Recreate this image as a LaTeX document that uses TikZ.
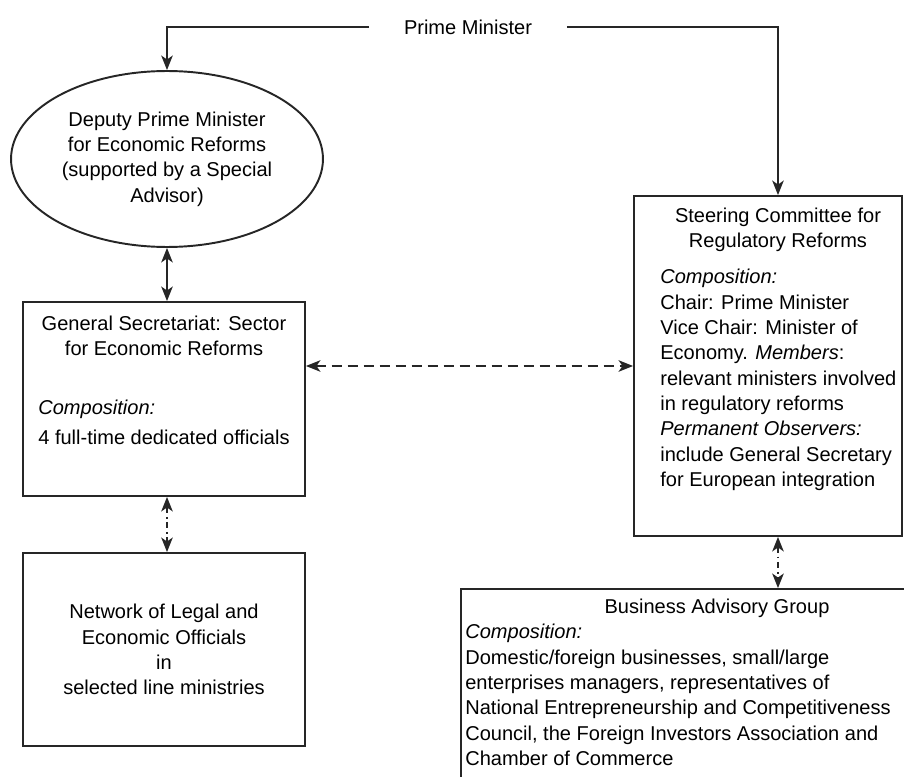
\documentclass[tikz,border=0pt]{standalone}
\usepackage{fontspec}
\setmainfont{Liberation Sans}
\usepackage{tikz}
\usetikzlibrary{shapes.geometric,arrows.meta,positioning}

\begin{document}
\begin{tikzpicture}[
      x=0.02cm, y=-0.02cm,
      font=\fontsize{11.4}{14.4}\selectfont,
      box/.style={
          rectangle, draw=black!85, line width=1.1pt,
          inner sep=0pt, align=center
      },
      oval/.style={
          ellipse, draw=black!85, line width=1.1pt,
          minimum width=6.24cm, minimum height=3.52cm,
          inner sep=0pt, align=center
      },
      head/.style={align=center, inner sep=0pt},
      body/.style={align=left, anchor=west, inner sep=0pt},
      link/.style={-{Stealth[length=2.9mm,width=2.3mm,inset=0.8mm]}, line width=1.1pt, draw=black!85},
      twoway/.style={{Stealth[length=2.9mm,width=2.3mm,inset=0.8mm]}-{Stealth[length=2.9mm,width=2.3mm,inset=0.8mm]},
          line width=1.1pt, draw=black!85},
      dashway/.style={twoway, dash pattern=on 0.2cm off 0.12cm},
      dotway/.style={twoway, dash pattern=on 0.13cm off 0.07cm on 0.035cm off 0.07cm}
  ]

  \useasboundingbox (0,0) rectangle (904,777);
  \clip (0,0) rectangle (904,777);

  % Prime Minister
  \node[inner sep=0pt, minimum width=3.94cm, minimum height=0.4cm] (pm) at (468,27) {Prime Minister};

  % Deputy Prime Minister
  \node[oval] (dpm) at (167,159)
      {Deputy Prime Minister\\for Economic Reforms\\(supported by a Special\\Advisor)};

  % General Secretariat
  \node[box, minimum width=5.64cm, minimum height=3.88cm] (gs) at (164,399) {};
  \node[head] (gstitle) at (164,336) {General Secretariat: Sector\\for Economic Reforms};
  \node[body] (gsbody) at (38,422)
      {\textit{Composition:}\\[2.5pt]4 full-time dedicated officials};

  % Network of officials
  \node[box, minimum width=5.64cm, minimum height=3.86cm] (net) at (164,649.5)
      {Network of Legal and\\Economic Officials\\in\\selected line ministries};

  % Steering Committee
  \node[box, minimum width=5.36cm, minimum height=6.8cm] (sc) at (768,366) {};
  \node[head] (sctitle) at (778,230) {Steering Committee for\\Regulatory Reforms};
  \node[body] (scbody) at (660,380)
      {\textit{Composition:}\\
       Chair: Prime Minister\\
       Vice Chair: Minister of\\
       Economy. \textit{Members}:\\
       relevant ministers involved\\
       in regulatory reforms\\
       \textit{Permanent Observers:}\\
       include General Secretary\\
       for European integration};

  % Business Advisory Group
  \node[box, minimum width=10.28cm, minimum height=4.42cm] (bag) at (718,699.5) {};
  \node[head] (bagtitle) at (717,608) {Business Advisory Group};
  \node[body] (bagbody) at (465,695)
      {\textit{Composition:}\\
       Domestic/foreign businesses, small/large\\
       enterprises managers, representatives of\\
       National Entrepreneurship and Competitiveness\\
       Council, the Foreign Investors Association and\\
       Chamber of Commerce};

  % connectors
  \draw[link] (pm.west) -| (dpm.north);
  \draw[link] (pm.east) -| (sc.north -| sctitle);
  \draw[twoway] (dpm.south) -- (dpm.south |- gs.north);
  \draw[dotway] (gs.south -| dpm.south) -- (net.north -| dpm.south);
  \draw[dashway] (sc.west -| gs.east) -- (sc.west);
  \draw[dotway] (sc.south -| sctitle) -- (bag.north -| sctitle);
\end{tikzpicture}
\end{document}
